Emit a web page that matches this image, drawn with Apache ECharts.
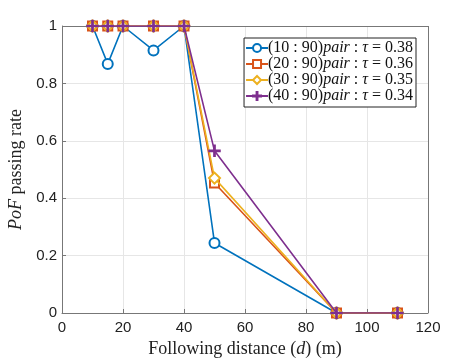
<!DOCTYPE html>
<html><head><meta charset="utf-8">
<script src="https://cdn.jsdelivr.net/npm/echarts@6/dist/echarts.min.js"></script>
<style>html,body{margin:0;padding:0;background:#fff}#c{width:473px;height:358px}</style>
</head><body><div id="c"></div>
<script>
const distances = [10, 15, 20, 30, 40, 50, 90, 110];
const pair10 = [1, 0.868, 1, 0.915, 1, 0.244, 0, 0];
const pair20 = [1, 1, 1, 1, 1, 0.453, 0, 0];
const pair30 = [1, 1, 1, 1, 1, 0.47, 0, 0];
const pair40 = [1, 1, 1, 1, 1, 0.565, 0, 0];
const seriesNames = ['(10 : 90)', '(20 : 90)', '(30 : 90)', '(40 : 90)'];
const taus = ['0.38', '0.36', '0.35', '0.34'];
const xTicks = [0, 20, 40, 60, 80, 100, 120];
const yTicks = [0, 0.2, 0.4, 0.6, 0.8, 1];

const colors = ['#0072BD', '#D95319', '#EDB120', '#7E2F8E'];
const symbols = ['emptyCircle', 'emptyRect', 'emptyDiamond', 'path://M4.45,0 H5.55 V4.45 H10 V5.55 H5.55 V10 H4.45 V5.55 H0 V4.45 H4.45 Z'];
const sizes = [10, 9, 11, 11];
const allData = [pair10, pair20, pair30, pair40];

const chart = echarts.init(document.getElementById('c'));
const serif = 'Liberation Serif';
chart.setOption({
  animation: false,
  grid: {left: 62, right: 45, top: 26, bottom: 45, show: false, containLabel: false, outerBoundsMode: 'none'},
  legend: {
    right: 57, top: 38, orient: 'vertical',
    itemWidth: 22, itemHeight: 10, itemGap: 0,
    padding: [2, 3, 3, 1],
    borderColor: '#222', borderWidth: 1, backgroundColor: '#fff',
    data: seriesNames,
    formatter: function (name) {
      const i = seriesNames.indexOf(name);
      return '{n|' + name + '}{i|pair}{n| : }{i|τ}{n| = ' + taus[i] + '}';
    },
    textStyle: {
      padding: [0, 0, 0, -5],
      rich: {
        n: {fontFamily: serif, fontSize: 16, color: '#111'},
        i: {fontFamily: serif, fontSize: 16, fontStyle: 'italic', color: '#111'}
      }
    }
  },
  xAxis: {
    type: 'value', min: 0, max: 120, interval: 20,
    name: 'Following distance ({i|d}) (m)', nameLocation: 'middle', nameGap: 23,
    nameTextStyle: {fontFamily: serif, fontSize: 18, color: '#222',
      rich: {i: {fontFamily: serif, fontSize: 18, fontStyle: 'italic', color: '#222'}}},
    axisLine: {show: true, onZero: false, lineStyle: {color: '#777', width: 1}},
    axisTick: {show: true, inside: true, length: 4, lineStyle: {color: '#777'}},
    axisLabel: {fontFamily: 'Liberation Sans', fontSize: 15, color: '#222', margin: 7,
      formatter: v => xTicks.includes(v) ? String(v) : ''},
    splitLine: {show: true, lineStyle: {color: '#e6e6e6', width: 1}}
  },
  yAxis: {
    type: 'value', min: 0, max: 1, interval: 0.2,
    name: '{i|PoF} passing rate', nameLocation: 'middle', nameGap: 31,
    nameTextStyle: {fontFamily: serif, fontSize: 18, color: '#222',
      rich: {i: {fontFamily: serif, fontSize: 18, fontStyle: 'italic', color: '#222'}}},
    axisLine: {show: true, onZero: false, lineStyle: {color: '#777', width: 1}},
    axisTick: {show: true, inside: true, length: 4, lineStyle: {color: '#777'}},
    axisLabel: {fontFamily: 'Liberation Sans', fontSize: 15, color: '#222', margin: 5,
      formatter: v => { const t = yTicks.find(k => Math.abs(k - v) < 1e-9); return t === undefined ? '' : String(t); }},
    splitLine: {show: true, lineStyle: {color: '#e6e6e6', width: 1}}
  },
  series: allData.map((arr, i) => ({
    name: seriesNames[i], type: 'line',
    data: distances.map((d, j) => [d, arr[j]]),
    symbol: symbols[i], symbolSize: sizes[i], showAllSymbol: true,
    lineStyle: {color: colors[i], width: 1.6},
    itemStyle: {color: colors[i], borderColor: colors[i], borderWidth: 1.5},
    z: 2 + i
  })).concat([{
    type: 'line', data: [], silent: true,
    markLine: {symbol: 'none', silent: true, label: {show: false},
      lineStyle: {color: '#777', width: 1, type: 'solid'},
      data: [[{coord: [0, 1]}, {coord: [120, 1]}], [{coord: [120, 0]}, {coord: [120, 1]}]]}
  }])
});
</script></body></html>
